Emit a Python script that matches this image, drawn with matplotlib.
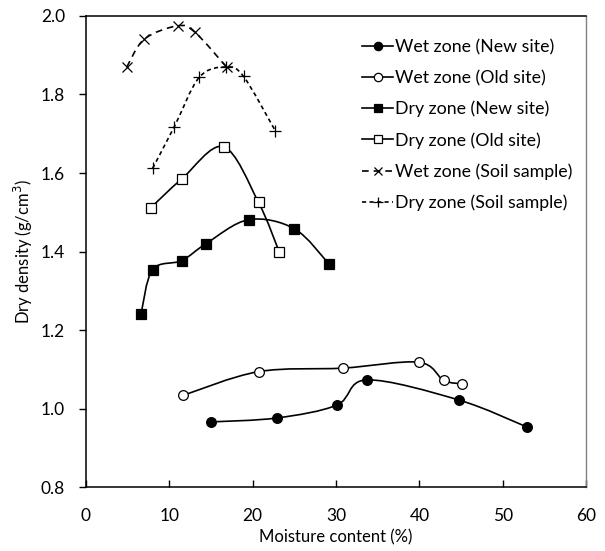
import numpy as np
import matplotlib
matplotlib.use("Agg")
import matplotlib.pyplot as plt
from matplotlib.path import Path
from matplotlib.patches import PathPatch
from matplotlib.lines import Line2D

plt.rcParams['font.family'] = ['Lato', 'DejaVu Sans']

# moisture content (%) and dry density (g/cm3)
wet_new_x = [15.0, 22.9, 30.1, 33.7, 44.7, 52.9]
wet_new_y = [0.966, 0.976, 1.009, 1.073, 1.022, 0.953]

wet_old_x = [11.7, 20.7, 30.8, 39.9, 42.9, 45.1]
wet_old_y = [1.034, 1.094, 1.103, 1.118, 1.072, 1.063]

dry_new_x = [6.6, 8.0, 11.5, 14.4, 19.5, 25.0, 29.2]
dry_new_y = [1.240, 1.354, 1.377, 1.420, 1.481, 1.458, 1.367]

dry_old_x = [7.8, 11.5, 16.5, 20.7, 23.2]
dry_old_y = [1.512, 1.585, 1.667, 1.525, 1.398]

wet_soil_x = [4.9, 7.0, 11.0, 13.1, 16.9]
wet_soil_y = [1.870, 1.941, 1.975, 1.958, 1.869]

dry_soil_x = [8.0, 10.6, 13.6, 16.8, 18.9, 22.7]
dry_soil_y = [1.612, 1.718, 1.844, 1.870, 1.846, 1.708]

labels = ["Wet zone (New site)", "Wet zone (Old site)", "Dry zone (New site)",
          "Dry zone (Old site)", "Wet zone (Soil sample)", "Dry zone (Soil sample)"]


def smooth_path(x, y):
    # excel-like smoothed line: catmull-rom as cubic bezier
    p = np.column_stack([x, y])
    verts = [p[0]]
    codes = [Path.MOVETO]
    n = len(p)
    for i in range(n - 1):
        p0 = p[i - 1] if i > 0 else p[i]
        p3 = p[i + 2] if i + 2 < n else p[i + 1]
        c1 = p[i] + (p[i + 1] - p0) / 6.0
        c2 = p[i + 1] - (p3 - p[i]) / 6.0
        verts += [c1, c2, p[i + 1]]
        codes += [Path.CURVE4] * 3
    return Path(verts, codes)


fig = plt.figure(figsize=(6.05, 5.51), dpi=100)
ax = fig.add_axes([0.142, 0.116, 0.827, 0.855])

series = [
    (wet_new_x, wet_new_y, dict(marker='o', mfc='black', ms=7), '-'),
    (wet_old_x, wet_old_y, dict(marker='o', mfc='white', ms=7), '-'),
    (dry_new_x, dry_new_y, dict(marker='s', mfc='black', ms=7), '-'),
    (dry_old_x, dry_old_y, dict(marker='s', mfc='white', ms=7), '-'),
    (wet_soil_x, wet_soil_y, dict(marker='x', mfc='none', ms=7), (0, (4, 3))),
    (dry_soil_x, dry_soil_y, dict(marker='+', mfc='none', ms=8), (0, (2.5, 2))),
]

handles = []
for (x, y, mk, ls), lab in zip(series, labels):
    patch = PathPatch(smooth_path(x, y), facecolor='none', edgecolor='black',
                      lw=1.2, linestyle=ls, zorder=2)
    ax.add_patch(patch)
    ax.plot(x, y, linestyle='none', color='black', mec='black', mew=0.9,
            zorder=3, **mk)
    handles.append(Line2D([], [], color='black', lw=1.2, linestyle=ls,
                          marker=mk['marker'], mfc=mk['mfc'], mec='black',
                          ms=mk['ms'] - 1.0, mew=0.9))

ax.set_xlim(0, 60)
ax.set_ylim(0.8, 2.0)
ax.set_xticks(range(0, 61, 10))
ax.set_yticks([0.8, 1.0, 1.2, 1.4, 1.6, 1.8, 2.0])
ax.set_yticklabels(["0.8", "1.0", "1.2", "1.4", "1.6", "1.8", "2.0"])
ax.tick_params(axis='x', direction='in', length=5, width=1, labelsize=12.5, pad=15)
ax.tick_params(axis='y', direction='out', length=5, width=1, labelsize=12.5, pad=10)
for s in ['left', 'bottom', 'top']:
    ax.spines[s].set_color('black')
    ax.spines[s].set_linewidth(1.1)
ax.spines['right'].set_color('#808080')
ax.spines['right'].set_linewidth(1.0)

ax.set_xlabel("Moisture content (%)", fontsize=12, labelpad=4)
ax.set_ylabel("Dry density (g/cm$^3$)", fontsize=12, labelpad=4)

ax.legend(handles=handles, labels=labels, loc='upper right', frameon=False,
          fontsize=12.8, handlelength=1.7, handletextpad=0.15, labelspacing=0.82,
          bbox_to_anchor=(1.005, 0.984))

fig.savefig("out.png", dpi=100)
